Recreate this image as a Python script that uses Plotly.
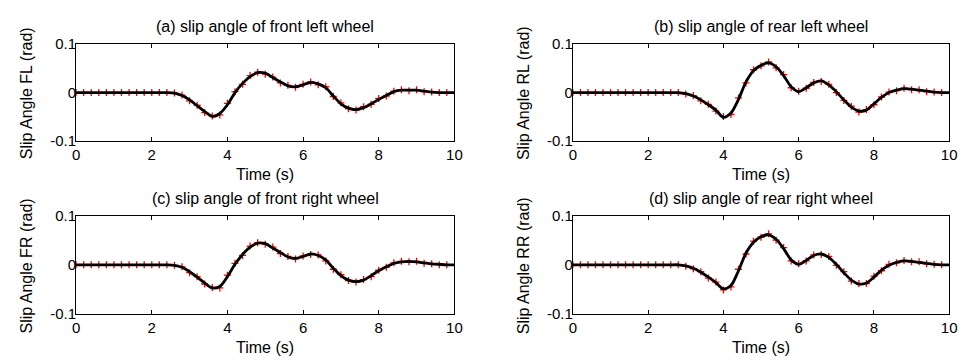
import plotly.graph_objects as go

# Time grids (s)
t_line = [round(0.2 * i, 1) for i in range(51)]      # 0 .. 10
t_mark = [round(0.2 * i, 1) for i in range(50)]      # 0 .. 9.8

# Reference slip angles (rad), black curves
fl_line = [0, 0, 0, 0, 0, 0, 0, 0, 0, 0, 0, 0, 0, -0.001, -0.006,
           -0.015, -0.027, -0.039, -0.049, -0.043, -0.025, 0.000, 0.019, 0.033, 0.041,
           0.040, 0.031, 0.022, 0.014, 0.012, 0.016, 0.021, 0.018, 0.010, -0.007,
           -0.023, -0.032, -0.035, -0.031, -0.023, -0.014, -0.006, 0.002, 0.005, 0.005,
           0.005, 0.003, 0.001, 0.000, 0.000, 0.000]
rl_line = [0, 0, 0, 0, 0, 0, 0, 0, 0, 0, 0, 0, 0, 0, 0,
           -0.002, -0.007, -0.015, -0.025, -0.036, -0.051, -0.042, -0.014, 0.022, 0.045,
           0.056, 0.061, 0.053, 0.035, 0.012, 0.002, 0.010, 0.020, 0.024, 0.016,
           0.002, -0.015, -0.030, -0.038, -0.036, -0.023, -0.010, 0.000, 0.005, 0.008,
           0.007, 0.005, 0.003, 0.001, 0.000, 0.000]
fr_line = [0, 0, 0, 0, 0, 0, 0, 0, 0, 0, 0, 0, 0, -0.001, -0.005,
           -0.014, -0.025, -0.037, -0.047, -0.044, -0.024, 0.001, 0.021, 0.036, 0.044,
           0.043, 0.034, 0.025, 0.016, 0.013, 0.017, 0.022, 0.019, 0.010, -0.007,
           -0.022, -0.031, -0.034, -0.031, -0.022, -0.012, -0.004, 0.003, 0.006, 0.007,
           0.006, 0.004, 0.002, 0.001, 0.000, 0.000]
rr_line = [0, 0, 0, 0, 0, 0, 0, 0, 0, 0, 0, 0, 0, 0, 0,
           -0.002, -0.007, -0.015, -0.025, -0.036, -0.049, -0.042, -0.012, 0.024, 0.046,
           0.057, 0.061, 0.052, 0.033, 0.010, 0.001, 0.009, 0.019, 0.022, 0.015,
           0.001, -0.016, -0.031, -0.039, -0.037, -0.025, -0.011, -0.001, 0.005, 0.008,
           0.007, 0.005, 0.003, 0.001, 0.000, 0.000]

# Estimated slip angles (rad), red markers
fl_mark = [0, 0, 0, 0, 0, 0, 0, 0, 0, 0, 0, 0, 0, -0.001, -0.005,
           -0.017, -0.026, -0.041, -0.048, -0.046, -0.022, 0.002, 0.017, 0.035, 0.042,
           0.038, 0.032, 0.020, 0.015, 0.011, 0.017, 0.022, 0.016, 0.012, -0.008,
           -0.021, -0.033, -0.036, -0.029, -0.024, -0.012, -0.007, 0.003, 0.006, 0.004,
           0.006, 0.002, 0.001, 0.000, 0.000]
rl_mark = [0, 0, 0, 0, 0, 0, 0, 0, 0, 0, 0, 0, 0, 0, 0,
           -0.003, -0.006, -0.017, -0.024, -0.038, -0.049, -0.045, -0.011, 0.020, 0.047,
           0.055, 0.063, 0.051, 0.037, 0.010, 0.003, 0.009, 0.021, 0.023, 0.017,
           0.000, -0.016, -0.028, -0.040, -0.035, -0.025, -0.009, 0.001, 0.004, 0.009,
           0.006, 0.006, 0.002, 0.001, 0.000]
fr_mark = [0, 0, 0, 0, 0, 0, 0, 0, 0, 0, 0, 0, 0, -0.001, -0.004,
           -0.016, -0.024, -0.039, -0.046, -0.047, -0.021, 0.003, 0.019, 0.038, 0.045,
           0.042, 0.036, 0.023, 0.017, 0.012, 0.018, 0.021, 0.020, 0.008, -0.009,
           -0.020, -0.032, -0.035, -0.030, -0.024, -0.011, -0.005, 0.004, 0.007, 0.006,
           0.007, 0.003, 0.002, 0.000, 0.000]
rr_mark = [0, 0, 0, 0, 0, 0, 0, 0, 0, 0, 0, 0, 0, 0, 0,
           -0.003, -0.008, -0.014, -0.027, -0.035, -0.051, -0.045, -0.009, 0.022, 0.048,
           0.056, 0.063, 0.050, 0.035, 0.008, 0.002, 0.008, 0.020, 0.021, 0.017,
           -0.001, -0.014, -0.033, -0.038, -0.038, -0.023, -0.012, 0.001, 0.004, 0.009,
           0.006, 0.006, 0.002, 0.001, 0.000]

titles = ["(a) slip angle of front left wheel", "(b) slip angle of rear left wheel",
          "(c) slip angle of front right wheel", "(d) slip angle of rear right wheel"]
ylabels = ["Slip Angle FL (rad)", "Slip Angle RL (rad)",
           "Slip Angle FR (rad)", "Slip Angle RR (rad)"]
x_ticks = [0, 2, 4, 6, 8, 10]
x_ticktext = ["0", "2", "4", "6", "8", "10"]
y_ticks = [-0.1, 0, 0.1]
y_ticktext = ["-0.1", "0", "0.1"]

W, H = 973, 364
FONT = "Arial, 'Liberation Sans', sans-serif"

# Panel boxes in pixels: (left, right, top, bottom)
boxes = [(73, 456, 36.7, 138.7), (576, 957, 36.7, 138.7),
         (73, 456, 216.7, 320), (576, 957, 216.7, 320)]
lines = [fl_line, rl_line, fr_line, rr_line]
marks = [fl_mark, rl_mark, fr_mark, rr_mark]

fig = go.Figure()
annotations = []
layout_axes = {}

for k in range(4):
    n = "" if k == 0 else str(k + 1)
    xa, ya = "x" + n, "y" + n
    l, r, t, b = boxes[k]
    fig.add_trace(go.Scatter(
        x=t_mark, y=marks[k], mode="markers", xaxis=xa, yaxis=ya,
        marker=dict(symbol="cross-thin", size=5, color="red",
                    line=dict(color="red", width=1.3)),
        showlegend=False, hoverinfo="skip"))
    fig.add_trace(go.Scatter(
        x=t_line, y=lines[k], mode="lines", xaxis=xa, yaxis=ya,
        line=dict(color="black", width=2.8, shape="spline", smoothing=0.8),
        showlegend=False, hoverinfo="skip"))

    common = dict(showgrid=False, zeroline=False, showline=True, linecolor="black",
                  linewidth=1, ticks="inside", ticklen=4, tickcolor="black",
                  mirror="ticks", tickfont=dict(family=FONT, size=15, color="black"))
    layout_axes["xaxis" + n] = dict(
        common, domain=[l / W, r / W], range=[0, 10], tickvals=x_ticks,
        ticktext=x_ticktext, anchor=ya, ticklabelstandoff=0)
    layout_axes["yaxis" + n] = dict(
        common, domain=[1 - b / H, 1 - t / H], range=[-0.1, 0.1], tickvals=y_ticks,
        ticktext=y_ticktext, anchor=xa, ticklabelstandoff=-4)

    cx = (l + r) / 2
    annotations.append(dict(text=titles[k], x=cx / W, y=1 - (t - 18) / H,
                            xref="paper", yref="paper", showarrow=False,
                            xanchor="center", yanchor="middle",
                            font=dict(family=FONT, size=16, color="black")))
    annotations.append(dict(text="Time (s)", x=cx / W, y=1 - (b + 35) / H,
                            xref="paper", yref="paper", showarrow=False,
                            xanchor="center", yanchor="middle",
                            font=dict(family=FONT, size=16, color="black")))
    annotations.append(dict(text=ylabels[k], x=(l - 50) / W, y=1 - ((t + b) / 2 + 1) / H,
                            xref="paper", yref="paper", showarrow=False,
                            xanchor="center", yanchor="middle", textangle=-90,
                            font=dict(family=FONT, size=16, color="black")))

fig.update_layout(
    width=W, height=H, margin=dict(l=0, r=0, t=0, b=0),
    paper_bgcolor="white", plot_bgcolor="white",
    annotations=annotations, **layout_axes)

fig.write_html("out.html")
